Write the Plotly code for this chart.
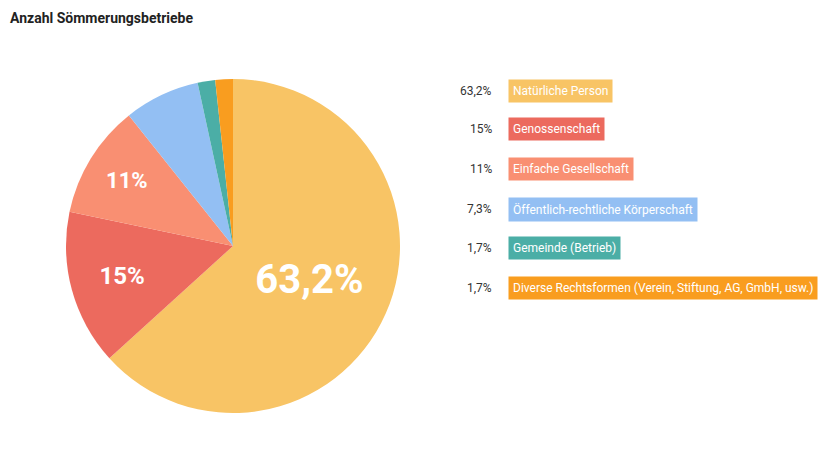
import plotly.graph_objects as go

labels = ["Natürliche Person", "Genossenschaft", "Einfache Gesellschaft",
          "Öffentlich-rechtliche Körperschaft", "Gemeinde (Betrieb)",
          "Diverse Rechtsformen (Verein, Stiftung, AG, GmbH, usw.)"]
values = [63.2, 15, 11, 7.3, 1.7, 1.7]
value_labels = ["63,2%", "15%", "11%", "7,3%", "1,7%", "1,7%"]
slice_text = ["<b>63,2%</b>", "<b>15%</b>", "<b>11%</b>", "", "", ""]
colors = ["#F8C465", "#EC6A5E", "#F98F72", "#93BFF3", "#4BAEA6", "#F99D1F"]
text_sizes = [40, 24, 22, 10, 10, 10]

W, H = 836, 468
off = 8
fig = go.Figure(go.Pie(
    labels=labels, values=values, sort=False, direction="clockwise", rotation=0,
    marker=dict(colors=colors, line=dict(width=0)),
    text=slice_text, textinfo="text", textposition="inside",
    insidetextorientation="horizontal",
    textfont=dict(size=text_sizes, color="white", family="Roboto"),
    hoverinfo="label+percent", showlegend=False,
    domain=dict(x=[(66-off)/W, (400-off)/W], y=[1-(413-off)/H, 1-(79-off)/H]),
))

ys = [91, 129, 169, 209, 248, 288]
for lab, vl, c, y in zip(labels, value_labels, colors, ys):
    fig.add_annotation(x=(494-off)/W, y=1-(y-off)/H, xref="paper", yref="paper", text=vl,
                       showarrow=False, xanchor="right", yanchor="middle",
                       font=dict(size=12, color="#333", family="Roboto"))
    fig.add_annotation(x=(508-off)/W, y=1-(y-off)/H, xref="paper", yref="paper", text=lab,
                       showarrow=False, xanchor="left", yanchor="middle",
                       bgcolor=c, borderpad=4,
                       font=dict(size=12, color="white", family="Roboto"))

fig.add_annotation(x=0, y=1-(18-off)/H, xref="paper", yref="paper",
                   text="<b>Anzahl Sömmerungsbetriebe</b>", showarrow=False,
                   xanchor="left", yanchor="middle",
                   font=dict(size=14, color="#222", family="Roboto"))

fig.update_layout(width=W, height=H, margin=dict(l=0, r=0, t=0, b=0),
                  paper_bgcolor="white", plot_bgcolor="white")
fig.write_html("out.html")
